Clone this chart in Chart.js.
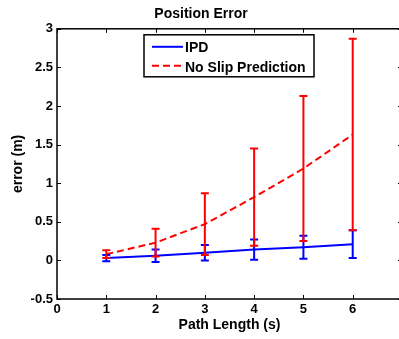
<!DOCTYPE html>
<html>
<head>
<meta charset="utf-8">
<script src="https://cdn.jsdelivr.net/npm/chart.js@4.4.1/dist/chart.umd.min.js"></script>
<style>
  html, body { margin: 0; padding: 0; background: #fff; overflow: hidden; }
  #wrap { width: 410px; height: 339px; }
</style>
</head>
<body>
<div id="wrap"><canvas id="errorChart"></canvas></div>
<script>
// Data: padlengte en gemiddelde fout met spreiding per methode
const pathLength = [1, 2, 3, 4, 5, 6];
const ipdMean = [0.03, 0.06, 0.10, 0.14, 0.17, 0.21];
const ipdErr = [0.04, 0.08, 0.10, 0.13, 0.15, 0.18];
const noSlipMean = [0.08, 0.23, 0.47, 0.82, 1.19, 1.63];
const noSlipErr = [0.05, 0.18, 0.40, 0.63, 0.94, 1.24];
const seriesNames = ['IPD', 'No Slip Prediction'];

Chart.defaults.font.family = '"Liberation Sans", Arial, sans-serif';
Chart.defaults.font.weight = 'bold';
Chart.defaults.font.size = 13;
Chart.defaults.color = '#000';

// Foutbalken tekenen via de schalen van de grafiek
const errorBars = {
    id: 'errorBars',
    afterDatasetsDraw(chart) {
        const ctx = chart.ctx;
        const xs = chart.scales.x, ys = chart.scales.y;
        chart.data.datasets.forEach(ds => {
            ctx.save();
            ctx.strokeStyle = ds.borderColor;
            ctx.lineWidth = 2;
            ds.data.forEach((p, i) => {
                const px = xs.getPixelForValue(p.x);
                const lo = ys.getPixelForValue(p.y - ds.errors[i]);
                const hi = ys.getPixelForValue(p.y + ds.errors[i]);
                ctx.beginPath();
                ctx.moveTo(px, lo); ctx.lineTo(px, hi);
                ctx.moveTo(px - 4, lo); ctx.lineTo(px + 4, lo);
                ctx.moveTo(px - 4, hi); ctx.lineTo(px + 4, hi);
                ctx.stroke();
            });
            ctx.restore();
        });
    }
};

// Kader met naar binnen wijzende tickjes (MATLAB-stijl)
const axesBox = {
    id: 'axesBox',
    afterDraw(chart) {
        const ctx = chart.ctx;
        const a = chart.chartArea;
        const len = 4;
        ctx.save();
        ctx.strokeStyle = '#000';
        ctx.lineWidth = 1;
        ctx.beginPath();
        chart.scales.x.ticks.forEach(t => {
            const px = Math.round(chart.scales.x.getPixelForValue(t.value)) + 0.5;
            ctx.moveTo(px, a.bottom); ctx.lineTo(px, a.bottom - len);
            ctx.moveTo(px, a.top); ctx.lineTo(px, a.top + len);
        });
        chart.scales.y.ticks.forEach(t => {
            const py = Math.round(chart.scales.y.getPixelForValue(t.value)) + 0.5;
            ctx.moveTo(a.left, py); ctx.lineTo(a.left + len, py);
            ctx.moveTo(a.right, py); ctx.lineTo(a.right - len, py);
        });
        ctx.stroke();
        ctx.lineWidth = 1.5;
        ctx.strokeRect(a.left, a.top, a.right - a.left, a.bottom - a.top);
        ctx.restore();
    }
};

// Legenda in een kader binnen het plotgebied
const boxLegend = {
    id: 'boxLegend',
    afterDraw(chart) {
        const ctx = chart.ctx;
        const a = chart.chartArea;
        const bx = a.left + 87, by = a.top + 6, bw = 170, bh = 42;
        ctx.save();
        ctx.fillStyle = '#fff';
        ctx.fillRect(bx, by, bw, bh);
        ctx.strokeStyle = '#000';
        ctx.lineWidth = 1.5;
        ctx.strokeRect(bx, by, bw, bh);
        ctx.font = 'bold 14px "Liberation Sans", Arial, sans-serif';
        ctx.textBaseline = 'middle';
        chart.data.datasets.forEach((ds, i) => {
            const y = by + 12 + i * 20;
            ctx.strokeStyle = ds.borderColor;
            ctx.lineWidth = 2;
            ctx.setLineDash(ds.borderDash || []);
            ctx.beginPath();
            ctx.moveTo(bx + 8, y - (i ? 1 : 0));
            ctx.lineTo(bx + 39, y - (i ? 1 : 0));
            ctx.stroke();
            ctx.setLineDash([]);
            ctx.fillStyle = '#000';
            ctx.fillText(ds.label, bx + 41, y + 1);
        });
        ctx.restore();
    }
};

const ctx = document.getElementById('errorChart').getContext('2d');
new Chart(ctx, {
    type: 'line',
    data: {
        datasets: [
            {
                label: seriesNames[0],
                data: pathLength.map((x, i) => ({ x: x, y: ipdMean[i] })),
                errors: ipdErr,
                borderColor: '#0000ff',
                borderWidth: 2,
                pointRadius: 0,
                tension: 0
            },
            {
                label: seriesNames[1],
                data: pathLength.map((x, i) => ({ x: x, y: noSlipMean[i] })),
                errors: noSlipErr,
                borderColor: '#ff0000',
                borderWidth: 2,
                borderDash: [7, 4],
                pointRadius: 0,
                tension: 0
            }
        ]
    },
    options: {
        responsive: true,
        maintainAspectRatio: false,
        animation: false,
        layout: { padding: { top: 2, right: 8, left: 0, bottom: 0 } },
        scales: {
            x: {
                type: 'linear',
                min: 0,
                max: 7,
                ticks: { stepSize: 1, padding: 3, font: { size: 13, weight: 'bold' } },
                grid: { display: false, drawTicks: false },
                border: { display: false },
                title: {
                    display: true,
                    text: 'Path Length (s)',
                    font: { size: 14, weight: 'bold' },
                    padding: { top: 0, bottom: 5 }
                },
                afterFit: s => { s.height = 40; }
            },
            y: {
                min: -0.5,
                max: 3,
                ticks: {
                    stepSize: 0.5,
                    padding: 4,
                    font: { size: 13, weight: 'bold' },
                    callback: v => String(v)
                },
                grid: { display: false, drawTicks: false },
                border: { display: false },
                title: {
                    display: true,
                    text: 'error (m)',
                    font: { size: 14, weight: 'bold' },
                    padding: { top: 10, bottom: 0 }
                },
                afterFit: s => { s.width = 57; }
            }
        },
        plugins: {
            legend: { display: false },
            tooltip: { enabled: false },
            title: {
                display: true,
                text: 'Position Error',
                font: { size: 14, weight: 'bold' },
                padding: { top: 4, bottom: 6 }
            }
        }
    },
    plugins: [errorBars, axesBox, boxLegend]
});
</script>
</body>
</html>
